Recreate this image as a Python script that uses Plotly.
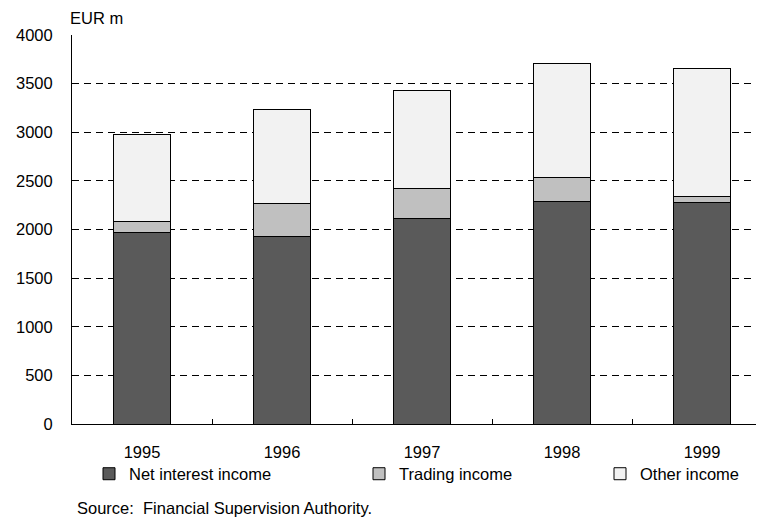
import plotly.graph_objects as go

# values (EUR m)
years = ["1995", "1996", "1997", "1998", "1999"]
net_interest = [1965, 1930, 2115, 2290, 2277]
trading = [120, 333, 310, 247, 65]
other = [895, 967, 1001, 1166, 1316]

FONT = "Liberation Sans, Arial, sans-serif"
FS = 16.5
W, H = 764, 520
ML, MR, MT, MB = 64, 0, 27, 104
plot_w = W - ML - MR
plot_h = H - MT - MB


def px_x(px):
    return (px - ML) / plot_w


def px_y(py):
    return (H - MB - py) / plot_h


series = [
    ("Net interest income", net_interest, "#5a5a5a", "legend", 81),
    ("Trading income", trading, "#c0c0c0", "legend2", 351),
    ("Other income", other, "#f2f2f2", "legend3", 592),
]

fig = go.Figure()
for name, vals, color, leg, _ in series:
    fig.add_trace(go.Bar(
        x=years, y=vals, name=name, legend=leg,
        marker=dict(color=color, line=dict(color="black", width=1)),
        width=0.41,
    ))

legend_style = dict(
    orientation="h", yanchor="middle", xanchor="left",
    y=px_y(466), bgcolor="rgba(0,0,0,0)",
    font=dict(family=FONT, size=FS, color="black"),
)
fig.update_layout(
    legend=dict(x=px_x(series[0][4]), **legend_style),
    legend2=dict(x=px_x(series[1][4]), **legend_style),
    legend3=dict(x=px_x(series[2][4]), **legend_style),
)

fig.update_layout(
    width=W, height=H,
    margin=dict(l=ML, r=MR, t=MT, b=MB),
    barmode="stack",
    plot_bgcolor="white", paper_bgcolor="white",
    font=dict(family=FONT, size=FS, color="black"),
    showlegend=True,
)

fig.update_xaxes(
    type="category", range=[-0.5, 4.5],
    showline=True, linecolor="black", linewidth=1,
    ticks="inside", tickson="boundaries", ticklen=5, tickcolor="black",
    showgrid=False, ticklabelstandoff=13,
    tickfont=dict(family=FONT, size=FS, color="black"),
)
fig.update_yaxes(
    range=[0, 4000], dtick=500,
    showline=True, linecolor="black", linewidth=1,
    showgrid=True, gridcolor="black", gridwidth=1, griddash="7px,5px",
    zeroline=False, ticks="", ticklabelstandoff=15,
    tickfont=dict(family=FONT, size=FS, color="black"),
)

fig.add_annotation(
    text="EUR m", xref="paper", yref="paper",
    x=px_x(60), y=px_y(10), xanchor="left", yanchor="middle",
    showarrow=False, font=dict(family=FONT, size=FS, color="black"),
)
fig.add_annotation(
    text="Source:  Financial Supervision Authority.", xref="paper", yref="paper",
    x=px_x(67), y=px_y(500), xanchor="left", yanchor="middle",
    showarrow=False, font=dict(family=FONT, size=FS, color="black"),
)

fig.write_html("out.html")
